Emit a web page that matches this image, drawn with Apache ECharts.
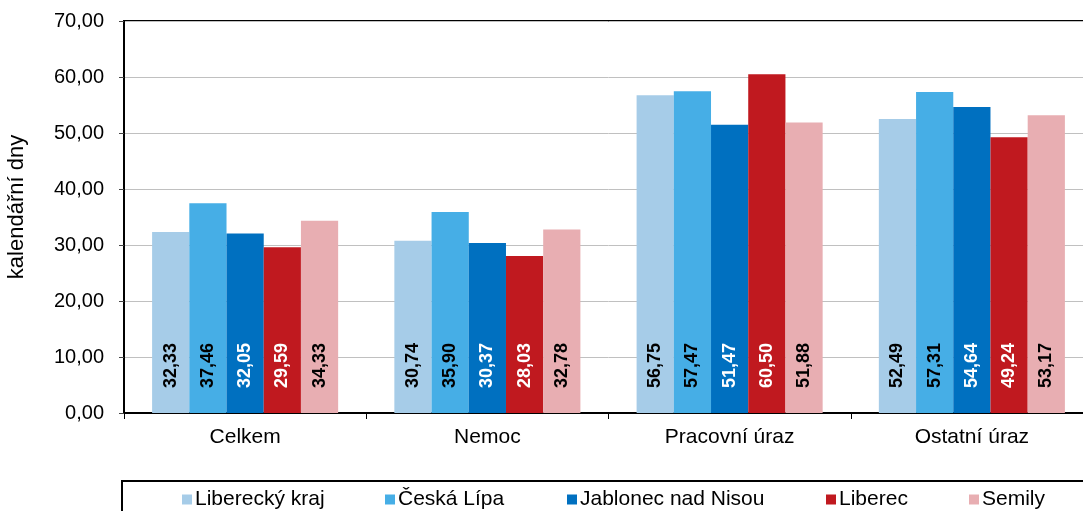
<!DOCTYPE html>
<html>
<head>
<meta charset="utf-8">
<script src="https://cdn.jsdelivr.net/npm/echarts@6/dist/echarts.min.js"></script>
<style>
html,body{margin:0;padding:0;background:#fff;overflow:hidden;width:1083px;height:511px;}
#chart{width:1093px;height:511px;}
</style>
</head>
<body>
<div id="chart"></div>
<script>
var categories = ['Celkem', 'Nemoc', 'Pracovní úraz', 'Ostatní úraz'];
var seriesNames = ['Liberecký kraj', 'Česká Lípa', 'Jablonec nad Nisou', 'Liberec', 'Semily'];
var liberecky = [32.33, 30.74, 56.75, 52.49];
var ceskaLipa = [37.46, 35.90, 57.47, 57.31];
var jablonec = [32.05, 30.37, 51.47, 54.64];
var liberec = [29.59, 28.03, 60.50, 49.24];
var semily = [34.33, 32.78, 51.88, 53.17];
var yTicks = [0, 10, 20, 30, 40, 50, 60, 70];

var seriesData = [liberecky, ceskaLipa, jablonec, liberec, semily];
var colors = ['#A6CCE8', '#46AEE6', '#0070C0', '#C0191F', '#E8AEB2'];
var labelColors = ['#000', '#000', '#fff', '#fff', '#000'];
var legendLefts = [182, 385, 567, 826, 969];
var FONT = '"Liberation Sans", Arial, Helvetica, sans-serif';

function fmt(v) { return Number(v).toFixed(2).replace('.', ','); }

var chart = echarts.init(document.getElementById('chart'), null, {renderer: 'canvas'});

var series = seriesNames.map(function (name, i) {
  return {
    name: name,
    type: 'bar',
    data: seriesData[i],
    barGap: '0%',
    barCategoryGap: '23.2%',
    itemStyle: {color: colors[i]},
    label: {
      show: true,
      position: 'insideBottom',
      distance: 25,
      rotate: 90,
      align: 'left',
      verticalAlign: 'middle',
      color: labelColors[i],
      fontFamily: FONT,
      fontWeight: 'bold',
      fontSize: 18,
      formatter: function (p) { return fmt(p.value); }
    },
    emphasis: {disabled: true}
  };
});

var legends = seriesNames.map(function (name, i) {
  return {
    data: [name],
    left: legendLefts[i],
    top: 489,
    orient: 'horizontal',
    icon: 'rect',
    itemWidth: 10,
    itemHeight: 10,
    itemGap: 0,
    padding: 0,
    selectedMode: false,
    textStyle: {fontFamily: FONT, fontSize: 21, color: '#000', padding: [0, 0, 0, -2]}
  };
});
// box border for legend
legends.push({
  data: [],
  left: 122,
  top: 481,
  width: 1200,
  height: 80,
  padding: [0, 1100, 60, 0],
  borderColor: '#000',
  borderWidth: 2,
  selectedMode: false
});

chart.setOption({
  animation: false,
  backgroundColor: '#fff',
  color: colors,
  grid: {
    left: 124,
    right: 0,
    top: 21,
    bottom: 98,
    show: true,
    borderColor: '#000',
    borderWidth: 2,
    containLabel: false,
    outerBoundsMode: 'none'
  },
  legend: legends,
  xAxis: {
    type: 'category',
    data: categories,
    axisLine: {show: true, lineStyle: {color: '#000', width: 2}},
    axisTick: {show: true, alignWithLabel: false, length: 6, lineStyle: {color: '#000', width: 1}},
    axisLabel: {fontFamily: FONT, fontSize: 21, color: '#000', margin: 14}
  },
  yAxis: {
    type: 'value',
    min: yTicks[0],
    max: yTicks[yTicks.length - 1],
    interval: 10,
    name: 'kalendářní dny',
    nameLocation: 'middle',
    nameGap: 96,
    nameRotate: 90,
    nameTextStyle: {fontFamily: FONT, fontSize: 22, color: '#000', padding: [0, 0, 0, 20]},
    axisLine: {show: true, lineStyle: {color: '#000', width: 2}},
    axisTick: {show: true, inside: false, length: 5, lineStyle: {color: '#444', width: 1}},
    splitLine: {show: true, lineStyle: {color: '#C0C0C0', width: 1}},
    axisLabel: {fontFamily: FONT, fontSize: 20, color: '#000', margin: 20,
      formatter: function (v) { return fmt(v); }}
  },
  series: series
});
</script>
</body>
</html>
